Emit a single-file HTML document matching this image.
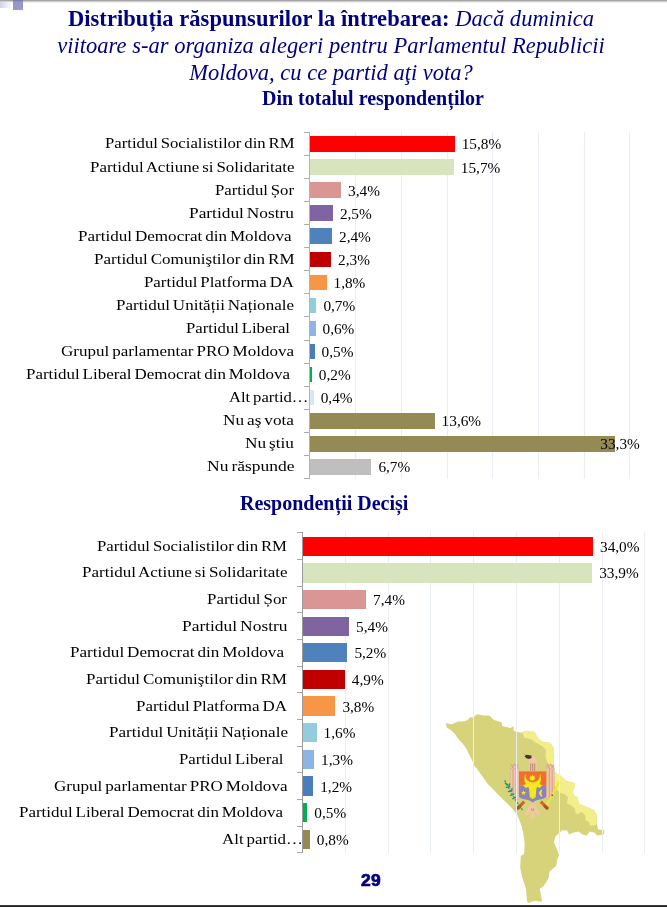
<!DOCTYPE html>
<html lang="ro"><head><meta charset="utf-8"><title>Sondaj</title>
<style>
html,body{margin:0;padding:0;background:#fff}
body{width:667px;height:907px;position:relative;overflow:hidden;font-family:"Liberation Serif",serif;color:#000}
.title{position:absolute;left:0;width:662px;text-align:center;color:#000080;font-size:22.5px;line-height:27px;white-space:nowrap}
.title b{font-weight:bold}
.title i{font-style:italic}
.sub{position:absolute;color:#000080;font-weight:bold;font-size:20px;white-space:nowrap;line-height:22px}
.grid{position:absolute;width:1px;background:#e8edf6}
.axis{position:absolute;width:1px;background:#868686}
.tick{position:absolute;width:5px;height:1px;background:#868686}
.bar{position:absolute}
.lab{position:absolute;white-space:nowrap;font-size:15.5px;line-height:20px;transform-origin:0 0;word-spacing:-1.2px}
.val{position:absolute;white-space:nowrap;font-size:15.3px;line-height:20px}
.topline{position:absolute;left:0;top:0;width:667px;height:3px;background:linear-gradient(#8e8e8e,#c4c4c4 40%,#fff)}
.sq{position:absolute;left:13px;top:0;width:10px;height:9.7px;background:linear-gradient(#7474a4,#9696ca 2px,#9999cc)}
.sqfade{position:absolute;left:0;top:2px;width:12px;height:6px;background:linear-gradient(90deg,#d2d2ea,#fff)}
.botline{position:absolute;left:0;top:905px;width:667px;height:2px;background:linear-gradient(#555,#222 1px)}
.pg{position:absolute;left:361.4px;top:872px;font-family:"Liberation Sans",sans-serif;font-weight:bold;font-size:16px;color:#000080;line-height:18px;letter-spacing:0.2px;-webkit-text-stroke:0.7px #000080;transform:scaleX(1.09);transform-origin:0 0}
</style></head><body>
<div class="topline"></div><div class="sqfade"></div><div class="sq"></div>
<div class="title" style="top:5px;letter-spacing:0.055px"><b>Distribuția răspunsurilor la întrebarea:</b> <i>Dacă duminica</i></div>
<div class="title" style="top:31.5px;letter-spacing:0.03px"><i>viitoare s-ar organiza alegeri pentru Parlamentul Republicii</i></div>
<div class="title" style="top:58.5px"><i>Moldova, cu ce partid aţi vota?</i></div>
<div class="sub" style="left:262px;top:87px">Din totalul respondenților</div>
<div class="grid" style="left:355px;top:132px;height:347px"></div>
<div class="grid" style="left:401px;top:132px;height:347px"></div>
<div class="grid" style="left:447px;top:132px;height:347px"></div>
<div class="grid" style="left:492px;top:132px;height:347px"></div>
<div class="grid" style="left:538px;top:132px;height:347px"></div>
<div class="grid" style="left:584px;top:132px;height:347px"></div>
<div class="grid" style="left:629px;top:132px;height:347px"></div>
<div class="axis" style="left:309px;top:132px;height:347px;background:#b4b4b4"></div>
<div class="tick" style="left:304px;top:132px;background:#acacac"></div>
<div class="tick" style="left:304px;top:155px;background:#acacac"></div>
<div class="tick" style="left:304px;top:178px;background:#acacac"></div>
<div class="tick" style="left:304px;top:201px;background:#acacac"></div>
<div class="tick" style="left:304px;top:224px;background:#acacac"></div>
<div class="tick" style="left:304px;top:247px;background:#acacac"></div>
<div class="tick" style="left:304px;top:270px;background:#acacac"></div>
<div class="tick" style="left:304px;top:293px;background:#acacac"></div>
<div class="tick" style="left:304px;top:316px;background:#acacac"></div>
<div class="tick" style="left:304px;top:340px;background:#acacac"></div>
<div class="tick" style="left:304px;top:363px;background:#acacac"></div>
<div class="tick" style="left:304px;top:386px;background:#acacac"></div>
<div class="tick" style="left:304px;top:409px;background:#acacac"></div>
<div class="tick" style="left:304px;top:432px;background:#acacac"></div>
<div class="tick" style="left:304px;top:455px;background:#acacac"></div>
<div class="tick" style="left:304px;top:478px;background:#acacac"></div>
<div class="bar" style="left:310px;top:136.23px;width:144.7px;height:15.60px;background:#FF0000"></div>
<div class="lab" style="left:104.5px;top:133.4px;transform:scaleX(1.0770)">Partidul Socialistilor din RM</div>
<div class="val" style="left:461.7px;top:134.4px">15,8%</div>
<div class="bar" style="left:310px;top:159.29px;width:143.8px;height:15.60px;background:#D7E4BD"></div>
<div class="lab" style="left:89.5px;top:156.5px;transform:scaleX(1.0929)">Partidul Actiune si Solidaritate</div>
<div class="val" style="left:460.8px;top:157.5px">15,7%</div>
<div class="bar" style="left:310px;top:182.35px;width:31.1px;height:15.60px;background:#D99694"></div>
<div class="lab" style="left:215.0px;top:179.6px;transform:scaleX(1.0778)">Partidul Șor</div>
<div class="val" style="left:348.1px;top:180.6px">3,4%</div>
<div class="bar" style="left:310px;top:205.41px;width:22.9px;height:15.60px;background:#8064A2"></div>
<div class="lab" style="left:189.0px;top:202.6px;transform:scaleX(1.1176)">Partidul Nostru</div>
<div class="val" style="left:339.9px;top:203.6px">2,5%</div>
<div class="bar" style="left:310px;top:228.47px;width:22.0px;height:15.60px;background:#4F81BD"></div>
<div class="lab" style="left:77.5px;top:225.7px;transform:scaleX(1.1005)">Partidul Democrat din Moldova</div>
<div class="val" style="left:339.0px;top:226.7px">2,4%</div>
<div class="bar" style="left:310px;top:251.53px;width:21.1px;height:15.60px;background:#C00000"></div>
<div class="lab" style="left:93.5px;top:248.7px;transform:scaleX(1.0965)">Partidul Comuniştilor din RM</div>
<div class="val" style="left:338.1px;top:249.7px">2,3%</div>
<div class="bar" style="left:310px;top:274.59px;width:16.5px;height:15.60px;background:#F79646"></div>
<div class="lab" style="left:143.5px;top:271.8px;transform:scaleX(1.0873)">Partidul Platforma DA</div>
<div class="val" style="left:333.5px;top:272.8px">1,8%</div>
<div class="bar" style="left:310px;top:297.65px;width:6.4px;height:15.60px;background:#93CDDD"></div>
<div class="lab" style="left:116.0px;top:294.8px;transform:scaleX(1.0984)">Partidul Unității Naționale</div>
<div class="val" style="left:323.4px;top:295.8px">0,7%</div>
<div class="bar" style="left:310px;top:320.71px;width:5.5px;height:15.60px;background:#8EB4E3"></div>
<div class="lab" style="left:186.0px;top:317.9px;transform:scaleX(1.0775)">Partidul Liberal</div>
<div class="val" style="left:322.5px;top:318.9px">0,6%</div>
<div class="bar" style="left:310px;top:343.77px;width:4.6px;height:15.60px;background:#4A7EBB"></div>
<div class="lab" style="left:61.0px;top:341.0px;transform:scaleX(1.0987)">Grupul parlamentar PRO Moldova</div>
<div class="val" style="left:321.6px;top:342.0px">0,5%</div>
<div class="bar" style="left:310px;top:366.83px;width:1.8px;height:15.60px;background:#00B050"></div>
<div class="lab" style="left:26.0px;top:364.0px;transform:scaleX(1.0935)">Partidul Liberal Democrat din Moldova</div>
<div class="val" style="left:318.8px;top:365.0px">0,2%</div>
<div class="bar" style="left:310px;top:389.89px;width:3.7px;height:15.60px;background:#DCE6F2"></div>
<div class="lab" style="left:229.0px;top:387.1px;transform:scaleX(1.0723)">Alt partid…</div>
<div class="val" style="left:320.7px;top:388.1px">0,4%</div>
<div class="bar" style="left:310px;top:412.95px;width:124.6px;height:15.60px;background:#948A54"></div>
<div class="lab" style="left:222.5px;top:410.1px;transform:scaleX(1.1110)">Nu aş vota</div>
<div class="val" style="left:441.6px;top:411.1px">13,6%</div>
<div class="bar" style="left:310px;top:436.01px;width:305.0px;height:15.60px;background:#948A54"></div>
<div class="lab" style="left:245.0px;top:433.2px;transform:scaleX(1.1132)">Nu ştiu</div>
<div class="val" style="left:600.3px;top:434.2px">33,3%</div>
<div class="bar" style="left:310px;top:459.07px;width:61.4px;height:15.60px;background:#BFBFBF"></div>
<div class="lab" style="left:206.5px;top:456.3px;transform:scaleX(1.1279)">Nu răspunde</div>
<div class="val" style="left:378.4px;top:457.3px">6,7%</div>
<div class="sub" style="left:240px;top:491.5px">Respondenții Deciși</div>
<svg style="position:absolute;left:0;top:0" width="667" height="907" viewBox="0 0 667 907">
<polygon points="446,722.7 448.2,723.7 452,724.2 458,721.5 464,721.5 467.7,720 470,717.3 473.7,717.3 476.7,714.3 483.5,715.5 489.5,715.8 494,720 501.5,722.2 502.2,726 510.5,728.2 513.5,726 513.5,730.5 518,732 521.7,732.7 525,731.3 534.7,731.7 537,737 541.5,741.5 550.5,743 553.5,747.5 554.2,756.5 553.5,764 554.4,772.1 560.7,775.7 566.1,781.1 574.6,782.9 574.6,787.4 572.8,791 573.7,795.5 577.8,797.3 578.7,803.6 585,806.3 593,809.5 596.6,814.4 596.6,822.5 598,829.3 604.3,830.6 604,834.5 597.2,835.5 594.3,832.5 589.4,831.6 587,835.5 582.6,834.5 578.7,831.6 573.8,832.5 569,834.5 567,830.2 562.1,830.6 555.3,836.4 554,842.3 556.3,848.1 559.2,855 557.3,858.9 556.3,865.7 549.5,871.5 548.5,878.4 543.6,886.1 539.7,889 541,895 542.2,901.7 534.8,900.8 528,903 527,900.8 526,889 522.2,877.4 520.2,867.6 520.8,855.9 524.1,854 524.7,844.2 523.5,834.5 521.2,824.7 517.3,815 512,808.3 503.6,799.9 495.2,791.5 487.8,784.1 481.2,774.7 477.5,769.5 473.7,765 472.2,760.5 469.2,754.5 466.2,748.5 462.5,743.2 458.7,739.5 455,734.2 450.5,729.7 446.7,727.5" fill="#D6D37A"/>
<polygon points="522.7,733.2 525,731.3 534.7,731.7 537,737 541.5,741.5 550.5,743 553.5,747.5 554.2,756.5 553.5,764 554.4,772.1 560.7,775.7 566.1,781.1 574.6,782.9 574.6,787.4 572.8,791 573.7,795.5 577.8,797.3 578.7,803.6 585,806.3 593,809.5 596.6,814.4 596.6,822.5 595.7,825.2 589.9,825.7 589.4,822.5 585.4,820.3 585.4,815.8 582.7,812.6 579.5,812.6 578.6,814.4 575.5,813 575,809 571.5,805.4 567,803.6 567.9,797.3 565.2,794.6 560.2,792.8 555,788 553,782 553,775 550,768 547.2,762 545.5,757 546,749.7 542.2,746 536.2,743 531,739.2 524.2,737.7" fill="#F4EE8A"/>
<g>
<!-- wings -->
<path d="M510.3,768.5 L511.2,764.2 L512.6,767 L514,763.4 L515.4,766.4 L516.8,763.6 L518,766.5 L519,769 L519,799.2 L516.5,798.6 L513.6,796.4 L511.2,793 L510.3,789 Z" fill="#F2C6A6" stroke="#D9A88A" stroke-width="0.5"/>
<path d="M554.3,768.5 L553.4,764.2 L552,767 L550.6,763.4 L549.2,766.4 L547.8,763.6 L546.6,766.5 L546.2,769 L546.2,799.2 L548.7,798.6 L551.6,796.4 L554,793 L554.3,789 Z" fill="#F2C6A6" stroke="#D9A88A" stroke-width="0.5"/>
<path d="M513,769V795.5M516,768V798M549.3,768V798M552.2,769V795.5" stroke="#C9957A" stroke-width="0.8" fill="none"/>
<path d="M511,764.5l3.4,4.6M514.6,764l-3.2,5M515,764.2l3.2,4.4M518.2,764.2l-3,4.6M547,764.2l3,4.6M550.2,764.2l-3.2,4.4M550.6,764l3.2,5M554,764.5l-3.4,4.6" stroke="#B98A78" stroke-width="0.5" fill="none"/>
<!-- neck / head -->
<path d="M528.8,771.3 V761 Q528.6,756.6 532.6,756.4 Q536.7,756.6 536.6,761 V771.3 Z" fill="#F2C6A6"/>
<path d="M530.7,763.5V771M532.7,763.5V771M534.7,763.5V771" stroke="#9C6B5E" stroke-width="0.7" fill="none"/>
<path d="M524.6,756.4 L526,754.8 L531.4,755.4 L531.6,758 L529,759 L526.4,758.2 Z" fill="#4A3230"/>
<path d="M523.6,753.4l1.6,1.8" stroke="#8a8a60" stroke-width="0.5"/>
<!-- tail -->
<path d="M532.6,801.5 Q529,806 525.6,812.6 Q524.6,815.4 527.4,815 Q530,812.6 531.2,809.4 Q530.4,814 530.8,817.4 Q532.6,821.4 534.4,817.4 Q534.8,814 534,809.4 Q535.2,812.6 537.8,815 Q540.6,815.4 539.6,812.6 Q536.2,806 532.6,801.5 Z" fill="#F2C6A6"/>
<path d="M531.4,808.4l0.6,2.4M533.8,808.4l-0.6,2.4" stroke="#7a5a50" stroke-width="0.5"/>
<!-- legs -->
<path d="M524.2,801.6 L519.2,806.8" stroke="#D4642A" stroke-width="3" stroke-linecap="butt"/>
<path d="M519.8,806.2 L518,808" stroke="#B5501E" stroke-width="3.4" stroke-linecap="round"/>
<path d="M540.8,801.6 L545.8,806.8" stroke="#D4642A" stroke-width="3" stroke-linecap="butt"/>
<path d="M545.2,806.2 L547,808" stroke="#B5501E" stroke-width="3.4" stroke-linecap="round"/>
<!-- branch & scepter -->
<path d="M504.6,780.4 Q509,789 514,797.4 Q518,804 523.4,811.2" stroke="#1FA3A0" stroke-width="1.3" stroke-dasharray="2.4 1.2" fill="none"/>
<path d="M505.4,783.4l2.6,1.6M506.2,787.4l3.6,-0.6M508.4,791.6l3.6,-1M510.6,795.4l3.4,-1.4M512.8,798.8l3,-1.6M509,786.6l0.6,-2.6M511.6,791l0.4,-2.6" stroke="#2F8F5F" stroke-width="1.3" stroke-linecap="round"/>
<path d="M558.8,782.6 L547.2,804.8" stroke="#F0E920" stroke-width="2" stroke-linecap="round"/>
<circle cx="552.2" cy="795.2" r="0.9" fill="#6a6a30"/>
<!-- shield -->
<path d="M519,771.4 H546.3 V785.6 H519 Z" fill="#EF6F2D"/>
<path d="M519,785.6 H546.3 V796.6 Q545.4,798.6 540,799.6 Q534.4,800.6 532.7,802.8 Q531,800.6 525.4,799.6 Q520,798.6 519,796.6 Z" fill="#8C84B8"/>
<!-- bull: horns, head, ears, star -->
<path d="M525.3,773.6 Q521.6,785.6 532.7,787.6 Q543.8,785.6 540.1,773.6 Q540.4,782 532.7,782.4 Q525,782 525.3,773.6 Z" fill="#F6E71F"/>
<path d="M528,785 L537.4,785 L536.2,790 L535.6,797.6 Q532.7,800.4 529.8,797.6 L529.2,790 Z" fill="#F6E71F"/>
<path d="M523.2,785.6 L526.4,783.4 L529.2,786.4 L525.8,788 Z M542.2,785.6 L539,783.4 L536.2,786.4 L539.6,788 Z" fill="#F6E71F"/>
<path d="M532.3,774.6l0.8,1.6 1.7,-0.6 -0.6,1.7 1.6,0.8 -1.6,0.8 0.6,1.7 -1.7,-0.6 -0.8,1.6 -0.8,-1.6 -1.7,0.6 0.6,-1.7 -1.6,-0.8 1.6,-0.8 -0.6,-1.7 1.7,0.6z" fill="#F6E71F"/>
<path d="M523.6,790.2l0.7,1.7 1.9,0.1 -1.5,1.2 0.5,1.8 -1.6,-1 -1.6,1 0.5,-1.8 -1.5,-1.2 1.9,-0.1z" fill="#F6E71F"/>
<path d="M541.6,789.8 Q537.6,793 541.6,796.4 Q540.2,793 541.6,789.8 Z" stroke="#F6E71F" stroke-width="1" fill="#F6E71F"/>
<path d="M530.6,797.2l1.2,0.8M534.8,797.2l-1.2,0.8" stroke="#9a8a30" stroke-width="0.5"/>
</g>
</svg>
<div class="grid" style="left:345px;top:532px;height:321px"></div>
<div class="grid" style="left:388px;top:532px;height:321px"></div>
<div class="grid" style="left:430px;top:532px;height:321px"></div>
<div class="grid" style="left:473px;top:532px;height:321px"></div>
<div class="grid" style="left:516px;top:532px;height:321px"></div>
<div class="grid" style="left:559px;top:532px;height:321px"></div>
<div class="grid" style="left:602px;top:532px;height:321px"></div>
<div class="grid" style="left:644px;top:532px;height:321px"></div>
<div class="axis" style="left:302px;top:532px;height:321px;background:#9a9a9a"></div>
<div class="tick" style="left:297px;top:532px;background:#a8a8a8"></div>
<div class="tick" style="left:297px;top:559px;background:#a8a8a8"></div>
<div class="tick" style="left:297px;top:586px;background:#a8a8a8"></div>
<div class="tick" style="left:297px;top:612px;background:#a8a8a8"></div>
<div class="tick" style="left:297px;top:639px;background:#a8a8a8"></div>
<div class="tick" style="left:297px;top:666px;background:#a8a8a8"></div>
<div class="tick" style="left:297px;top:692px;background:#a8a8a8"></div>
<div class="tick" style="left:297px;top:719px;background:#a8a8a8"></div>
<div class="tick" style="left:297px;top:746px;background:#a8a8a8"></div>
<div class="tick" style="left:297px;top:772px;background:#a8a8a8"></div>
<div class="tick" style="left:297px;top:799px;background:#a8a8a8"></div>
<div class="tick" style="left:297px;top:826px;background:#a8a8a8"></div>
<div class="tick" style="left:297px;top:852px;background:#a8a8a8"></div>
<div class="bar" style="left:303px;top:536.58px;width:290.0px;height:19.30px;background:#FF0000"></div>
<div class="lab" style="left:97.0px;top:535.6px;transform:scaleX(1.0798)">Partidul Socialistilor din RM</div>
<div class="val" style="left:600.0px;top:536.7px">34,0%</div>
<div class="bar" style="left:303px;top:563.23px;width:289.2px;height:19.30px;background:#D7E4BD"></div>
<div class="lab" style="left:81.5px;top:562.3px;transform:scaleX(1.0983)">Partidul Actiune si Solidaritate</div>
<div class="val" style="left:599.2px;top:563.4px">33,9%</div>
<div class="bar" style="left:303px;top:589.88px;width:63.1px;height:19.30px;background:#D99694"></div>
<div class="lab" style="left:207.0px;top:588.9px;transform:scaleX(1.0915)">Partidul Șor</div>
<div class="val" style="left:373.1px;top:590.0px">7,4%</div>
<div class="bar" style="left:303px;top:616.52px;width:46.1px;height:19.30px;background:#8064A2"></div>
<div class="lab" style="left:181.5px;top:615.6px;transform:scaleX(1.1229)">Partidul Nostru</div>
<div class="val" style="left:356.1px;top:616.7px">5,4%</div>
<div class="bar" style="left:303px;top:643.17px;width:44.4px;height:19.30px;background:#4F81BD"></div>
<div class="lab" style="left:69.5px;top:642.2px;transform:scaleX(1.1031)">Partidul Democrat din Moldova</div>
<div class="val" style="left:354.4px;top:643.3px">5,2%</div>
<div class="bar" style="left:303px;top:669.82px;width:41.8px;height:19.30px;background:#C00000"></div>
<div class="lab" style="left:86.0px;top:668.9px;transform:scaleX(1.0992)">Partidul Comuniştilor din RM</div>
<div class="val" style="left:351.8px;top:670.0px">4,9%</div>
<div class="bar" style="left:303px;top:696.48px;width:32.4px;height:19.30px;background:#F79646"></div>
<div class="lab" style="left:136.0px;top:695.5px;transform:scaleX(1.0946)">Partidul Platforma DA</div>
<div class="val" style="left:342.4px;top:696.6px">3,8%</div>
<div class="bar" style="left:303px;top:723.12px;width:13.6px;height:19.30px;background:#93CDDD"></div>
<div class="lab" style="left:108.5px;top:722.2px;transform:scaleX(1.1046)">Partidul Unității Naționale</div>
<div class="val" style="left:323.6px;top:723.3px">1,6%</div>
<div class="bar" style="left:303px;top:749.77px;width:11.1px;height:19.30px;background:#8EB4E3"></div>
<div class="lab" style="left:178.5px;top:748.8px;transform:scaleX(1.0827)">Partidul Liberal</div>
<div class="val" style="left:321.1px;top:749.9px">1,3%</div>
<div class="bar" style="left:303px;top:776.42px;width:10.2px;height:19.30px;background:#4A7EBB"></div>
<div class="lab" style="left:53.5px;top:775.5px;transform:scaleX(1.1010)">Grupul parlamentar PRO Moldova</div>
<div class="val" style="left:320.2px;top:776.6px">1,2%</div>
<div class="bar" style="left:303px;top:803.07px;width:4.3px;height:19.30px;background:#00B050"></div>
<div class="lab" style="left:19.0px;top:802.1px;transform:scaleX(1.0935)">Partidul Liberal Democrat din Moldova</div>
<div class="val" style="left:314.3px;top:803.2px">0,5%</div>
<div class="bar" style="left:303px;top:829.73px;width:6.8px;height:19.30px;background:#948A54"></div>
<div class="lab" style="left:221.5px;top:828.8px;transform:scaleX(1.0925)">Alt partid…</div>
<div class="val" style="left:316.8px;top:829.9px">0,8%</div>
<div class="pg">29</div>
<div class="botline"></div>
</body></html>
